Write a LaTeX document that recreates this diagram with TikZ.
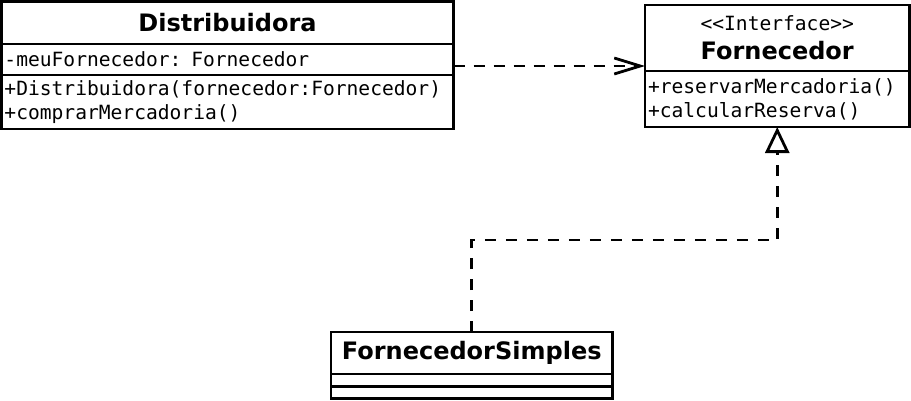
\documentclass[tikz,border=0pt]{standalone}
\usepackage{fontspec}
\setmainfont{DejaVu Sans}
\setmonofont{DejaVu Sans Mono}
\usetikzlibrary{positioning,arrows.meta}

\tikzset{
  box/.style={draw, line width=2.8pt, outer sep=0pt, inner xsep=3pt, inner ysep=0pt},
  title/.style={box, font=\fontsize{24}{29}\selectfont\bfseries, align=center},
  members/.style={box, font=\fontsize{19.6}{24}\selectfont\ttfamily, align=left},
  dep/.style={line width=2.8pt, dash pattern=on 11pt off 9pt, -{Straight Barb[length=26pt,width=16pt]}},
  real/.style={line width=2.8pt, dash pattern=on 11pt off 10pt, -{Triangle[open,length=26pt,width=24pt,fill=white]}},
}

\begin{document}
\begin{tikzpicture}[x=1pt,y=1pt]

  \useasboundingbox (0,0) rectangle (911,-400);

  % Distribuidora
  \node[title, minimum width=452pt, minimum height=42.5pt] (dist) at (227.5,-22.75) {Distribuidora}; %
  \node[members, text width=446pt, minimum height=31pt, below=0pt of dist] (distAttr) {-meuFornecedor: Fornecedor}; %
  \node[members, text width=446pt, minimum height=54pt, below=0pt of distAttr] (distMeth) {+Distribuidora(fornecedor:Fornecedor)\\+comprarMercadoria()}; %

  % Fornecedor (interface)
  \node[title, minimum width=264.5pt, minimum height=66pt] (forn) at (777.25,-38) {{\fontsize{19.6}{24}\selectfont\ttfamily\mdseries {<}{<}Interface{>}{>}}\\Fornecedor}; %
  \node[members, text width=258.5pt, minimum height=56pt, below=0pt of forn] (fornMeth) {+reservarMercadoria()\\+calcularReserva()}; %

  % FornecedorSimples
  \node[title, minimum width=281.5pt, minimum height=42pt] (simp) at (471.75,-353) {FornecedorSimples}; %
  \node[box, minimum width=281.5pt, minimum height=12.5pt, below=0pt of simp] (simpAttr) {}; %
  \node[box, minimum width=281.5pt, minimum height=12pt, below=0pt of simpAttr] (simpMeth) {}; %

  % Dependency and realization
  \draw[dep] ([yshift=-6.5pt]distAttr.east) -- ([yshift=-6.5pt]distAttr.east -| forn.west);
  \draw[real] (simp.north) -- ++(0,92) -| (fornMeth.south);

\end{tikzpicture}
\end{document}
